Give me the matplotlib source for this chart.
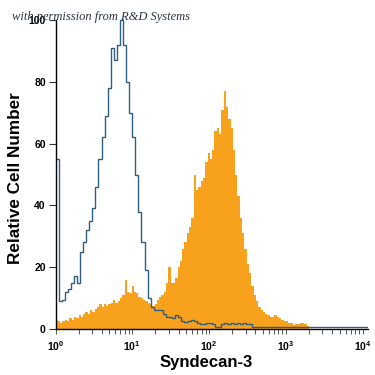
import numpy as np
import matplotlib
matplotlib.use("Agg")
import matplotlib.pyplot as plt
from matplotlib.ticker import FixedLocator, LogLocator, NullFormatter, FixedFormatter

# ---- data ----
# histogram bin width in decades
blue_step = 0.04
orange_step = 0.03

# isotype control (blue outline), counts per bin starting at 10^0
blue_counts = [
    55, 9, 9.5, 12, 13, 15, 17, 15, 25, 28,
    32, 35, 39, 46, 55, 62, 69, 78, 91, 87,
    92, 100, 92, 80, 70, 62, 50, 38, 28, 19,
    10, 7, 6, 6, 6, 5, 4, 4, 3.5, 4.5,
    4, 2.5, 2.3, 2.5, 3, 2.5, 2, 1.5, 1.7, 2,
    2, 1.5, 0.8, 0.8, 1.7, 2, 1.5, 2, 1.5, 2,
    1.5, 2, 1.5, 1.5, 0.7, 0.7, 0.7, 0.7, 0.7, 0.7,
    0.7, 0.7, 0.7, 0.7, 0.7, 0.7, 0.7, 0.7, 0.7, 0.7,
    0.7, 0.7, 0.7, 0.7, 0.7, 0.7, 0.7, 0.7, 0.7, 0.7,
    0.7, 0.7, 0.7, 0.7, 0.7, 0.7, 0.7, 0.7, 0.7, 0.7,
    0.7, 0.7,
]

# Syndecan-3 stained cells (orange filled), counts per bin starting at 10^0
orange_counts = [
    3, 2.5, 2, 2.5, 3, 2.5, 3.5, 3, 4, 3.5,
    4.5, 4, 5, 5.5, 5, 6, 5.5, 6.5, 7, 8,
    7, 8, 7.5, 8, 8.5, 9.5, 8.5, 9, 10, 11,
    16, 12, 11.5, 14, 12, 11.5, 10.5, 10, 9.5, 9,
    8.5, 8, 7.5, 8, 9.5, 10.5, 11, 12, 15, 20,
    15, 15, 16.5, 20, 22, 26, 28, 31, 33, 36,
    50, 45, 46, 48, 49, 54, 57, 55, 58, 64,
    65, 63, 71, 77, 72, 68, 65, 58, 50, 43,
    36, 31, 26, 21, 18, 14, 11, 9, 7, 6,
    5.5, 5, 4.5, 4, 4, 4.5, 4, 3.5, 3, 2.5,
    2.5, 2, 2, 1.3, 1.5, 1.5, 2, 2, 1.5, 1,
]

y_ticks = [0, 20, 40, 60, 80, 100]
x_ticks = [1, 10, 100, 1000, 10000]
x_tick_labels = [r"$\mathbf{10^{0}}$", r"$\mathbf{10^{1}}$", r"$\mathbf{10^{2}}$",
                 r"$\mathbf{10^{3}}$", r"$\mathbf{10^{4}}$"]
x_label = "Syndecan-3"
y_label = "Relative Cell Number"
credit = "with permission from R&D Systems"

# ---- style ----
plt.rcParams["font.family"] = ["Liberation Sans", "DejaVu Sans"]
plt.rcParams["mathtext.fontset"] = "custom"
plt.rcParams["mathtext.rm"] = "Liberation Sans"
plt.rcParams["mathtext.bf"] = "Liberation Sans:bold"

ORANGE = "#f7a11c"
BLUE = "#2e5f80"

fig = plt.figure(figsize=(3.75, 3.75), dpi=100)
ax = fig.add_axes([55.5 / 375, 46 / 375, 312.5 / 375, 309 / 375])

blue_edges = 10 ** (np.arange(len(blue_counts) + 1) * blue_step)
orange_edges = 10 ** (np.arange(len(orange_counts) + 1) * orange_step)

ax.stairs(orange_counts, orange_edges, fill=True, color=ORANGE, lw=0, zorder=2)
ax.stairs(blue_counts, blue_edges, baseline=None, color=BLUE, lw=1.0, zorder=3)

ax.set_xscale("log")
ax.set_xlim(1, 10 ** 4.07)
ax.set_ylim(0, 100)

for s in ("top", "right"):
    ax.spines[s].set_visible(False)
for s in ("left", "bottom"):
    ax.spines[s].set_linewidth(1.0)
    ax.spines[s].set_color("black")
    ax.spines[s].set_zorder(4)

ax.yaxis.set_major_locator(FixedLocator(y_ticks))
ax.tick_params(axis="y", which="major", direction="out", length=5, width=0.8,
               color="#333333", labelsize=7.5, pad=2)
for lab in ax.get_yticklabels():
    lab.set_fontweight("bold")

ax.xaxis.set_major_locator(FixedLocator(x_ticks))
ax.xaxis.set_major_formatter(FixedFormatter(x_tick_labels))
ax.xaxis.set_minor_locator(LogLocator(base=10, subs=np.arange(2, 10)))
ax.xaxis.set_minor_formatter(NullFormatter())
ax.tick_params(axis="x", which="both", direction="out", length=3.5, width=0.7,
               color="#555555", labelsize=7.5, pad=4)

ax.set_xlabel(x_label, fontsize=12, fontweight="bold")
ax.xaxis.set_label_coords((206 - 55.5) / 312.5, (329 - 355) / 309)
ax.set_ylabel(y_label, fontsize=12.3, fontweight="bold")
ax.yaxis.set_label_coords((23 - 55.5) / 312.5, (329 - 178) / 309)

fig.text(12 / 375, 1 - 17 / 375, credit, family="Liberation Serif", style="italic",
         fontsize=9, va="center", ha="left", color="#2a3444", zorder=10)

fig.savefig("out.png", dpi=100)
